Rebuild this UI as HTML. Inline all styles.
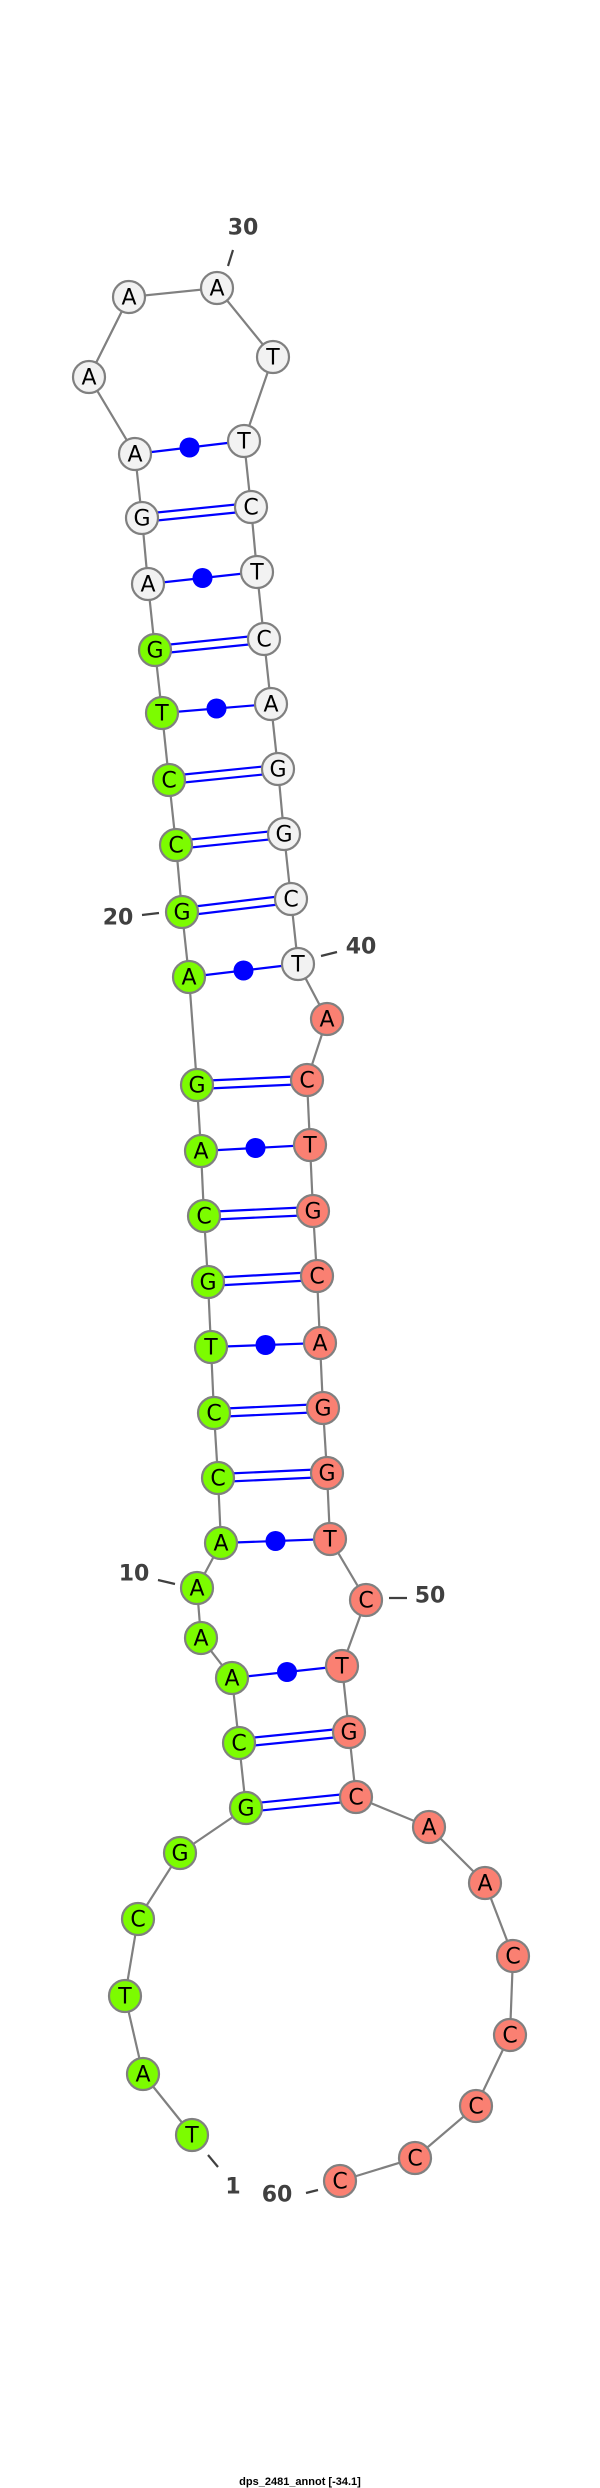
<!DOCTYPE html>
<html><head><meta charset="utf-8"><style>
html,body{margin:0;padding:0;background:#fff;}
svg{display:block;}
.n{stroke:#808080;stroke-width:2.2;}
.g{fill:#7CFC00;}.w{fill:#F2F2F2;}.s{fill:#FA8072;}
text.l{font-family:"DejaVu Sans","Liberation Sans",sans-serif;font-size:22px;text-anchor:middle;dominant-baseline:central;fill:#000;}
text.num{font-family:"DejaVu Sans","Liberation Sans",sans-serif;font-size:22px;font-weight:bold;text-anchor:middle;dominant-baseline:central;fill:#404040;}
.bp{stroke:#0000ff;stroke-width:2.2;fill:none;}
.tk{stroke:#404040;stroke-width:2.2;}
</style></head><body>
<svg width="600" height="2488" viewBox="0 0 600 2488" xmlns="http://www.w3.org/2000/svg">
<polyline fill="none" stroke="#808080" stroke-width="2.2" points="192,2135 143,2074 125,1996 138,1919 180,1853 246,1808 239,1743 232,1678 201,1638 197,1588 221,1543 218,1478 214,1413 211,1347 208,1282 204,1216 201,1151 197,1085 189,977 182,912 176,845 169,780 162,713 155,650 148,584 142,518 135,454 89,377 129,297 217,288 273,357 244,441 251,507 257,572 264,639 271,704 278,769 284,834 291,899 298,964 327,1019 307,1080 310,1145 313,1211 317,1276 320,1343 323,1408 327,1473 330,1539 366,1600 342,1666 349,1732 356,1797 429,1827 485,1883 513,1956 510,2035 476,2106 415,2158 340,2181"/>
<!-- pairs -->
<g class="bp">
<line x1="135" y1="454" x2="244" y2="441"/>
<line x1="142" y1="514" x2="251" y2="503"/><line x1="142" y1="522" x2="251" y2="511"/>
<line x1="148" y1="584" x2="257" y2="572"/>
<line x1="155" y1="646" x2="264" y2="635"/><line x1="155" y1="654" x2="264" y2="643"/>
<line x1="162" y1="713" x2="271" y2="704"/>
<line x1="169" y1="776" x2="278" y2="765"/><line x1="169" y1="784" x2="278" y2="773"/>
<line x1="176" y1="841" x2="284" y2="830"/><line x1="176" y1="849" x2="284" y2="838"/>
<line x1="182" y1="908" x2="291" y2="895"/><line x1="182" y1="916" x2="291" y2="903"/>
<line x1="189" y1="977" x2="298" y2="964"/>
<line x1="197" y1="1081" x2="307" y2="1076"/><line x1="197" y1="1089" x2="307" y2="1084"/>
<line x1="201" y1="1151" x2="310" y2="1145"/>
<line x1="204" y1="1212" x2="313" y2="1207"/><line x1="204" y1="1220" x2="313" y2="1215"/>
<line x1="208" y1="1278" x2="317" y2="1272"/><line x1="208" y1="1286" x2="317" y2="1280"/>
<line x1="211" y1="1347" x2="320" y2="1343"/>
<line x1="214" y1="1409" x2="323" y2="1404"/><line x1="214" y1="1417" x2="323" y2="1412"/>
<line x1="218" y1="1474" x2="327" y2="1469"/><line x1="218" y1="1482" x2="327" y2="1477"/>
<line x1="221" y1="1543" x2="330" y2="1539"/>
<line x1="232" y1="1678" x2="342" y2="1666"/>
<line x1="239" y1="1739" x2="349" y2="1728"/><line x1="239" y1="1747" x2="349" y2="1736"/>
<line x1="246" y1="1804" x2="356" y2="1793"/><line x1="246" y1="1812" x2="356" y2="1801"/>
</g>
<g fill="#0000ff">
<circle cx="189.5" cy="447.5" r="10"/>
<circle cx="202.5" cy="578" r="10"/>
<circle cx="216.5" cy="708.5" r="10"/>
<circle cx="243.5" cy="970.5" r="10"/>
<circle cx="255.5" cy="1148" r="10"/>
<circle cx="265.5" cy="1345" r="10"/>
<circle cx="275.5" cy="1541" r="10"/>
<circle cx="287" cy="1672" r="10"/>
</g>
<!-- ticks & numbers -->
<line class="tk" x1="233" y1="250" x2="228" y2="266"/>
<text class="num" x="243" y="228">30</text>
<line class="tk" x1="142" y1="915" x2="159" y2="913"/>
<text class="num" x="118" y="918">20</text>
<line class="tk" x1="321" y1="956" x2="337" y2="952"/>
<text class="num" x="361" y="947">40</text>
<line class="tk" x1="158" y1="1580" x2="175" y2="1584"/>
<text class="num" x="134" y="1574">10</text>
<line class="tk" x1="389" y1="1598" x2="407" y2="1598"/>
<text class="num" x="430" y="1596">50</text>
<line class="tk" x1="208" y1="2155" x2="218" y2="2167"/>
<text class="num" x="233" y="2187">1</text>
<line class="tk" x1="306" y1="2193" x2="318" y2="2190"/>
<text class="num" x="277" y="2195">60</text>
<!-- nodes -->
<g class="n">
<circle class="g" cx="192" cy="2135" r="16"/><circle class="g" cx="143" cy="2074" r="16"/><circle class="g" cx="125" cy="1996" r="16"/><circle class="g" cx="138" cy="1919" r="16"/><circle class="g" cx="180" cy="1853" r="16"/><circle class="g" cx="246" cy="1808" r="16"/><circle class="g" cx="239" cy="1743" r="16"/><circle class="g" cx="232" cy="1678" r="16"/><circle class="g" cx="201" cy="1638" r="16"/><circle class="g" cx="197" cy="1588" r="16"/><circle class="g" cx="221" cy="1543" r="16"/><circle class="g" cx="218" cy="1478" r="16"/><circle class="g" cx="214" cy="1413" r="16"/><circle class="g" cx="211" cy="1347" r="16"/><circle class="g" cx="208" cy="1282" r="16"/><circle class="g" cx="204" cy="1216" r="16"/><circle class="g" cx="201" cy="1151" r="16"/><circle class="g" cx="197" cy="1085" r="16"/><circle class="g" cx="189" cy="977" r="16"/><circle class="g" cx="182" cy="912" r="16"/><circle class="g" cx="176" cy="845" r="16"/><circle class="g" cx="169" cy="780" r="16"/><circle class="g" cx="162" cy="713" r="16"/><circle class="g" cx="155" cy="650" r="16"/>
<circle class="w" cx="148" cy="584" r="16"/><circle class="w" cx="142" cy="518" r="16"/><circle class="w" cx="135" cy="454" r="16"/><circle class="w" cx="89" cy="377" r="16"/><circle class="w" cx="129" cy="297" r="16"/><circle class="w" cx="217" cy="288" r="16"/><circle class="w" cx="273" cy="357" r="16"/><circle class="w" cx="244" cy="441" r="16"/><circle class="w" cx="251" cy="507" r="16"/><circle class="w" cx="257" cy="572" r="16"/><circle class="w" cx="264" cy="639" r="16"/><circle class="w" cx="271" cy="704" r="16"/><circle class="w" cx="278" cy="769" r="16"/><circle class="w" cx="284" cy="834" r="16"/><circle class="w" cx="291" cy="899" r="16"/><circle class="w" cx="298" cy="964" r="16"/>
<circle class="s" cx="327" cy="1019" r="16"/><circle class="s" cx="307" cy="1080" r="16"/><circle class="s" cx="310" cy="1145" r="16"/><circle class="s" cx="313" cy="1211" r="16"/><circle class="s" cx="317" cy="1276" r="16"/><circle class="s" cx="320" cy="1343" r="16"/><circle class="s" cx="323" cy="1408" r="16"/><circle class="s" cx="327" cy="1473" r="16"/><circle class="s" cx="330" cy="1539" r="16"/><circle class="s" cx="366" cy="1600" r="16"/><circle class="s" cx="342" cy="1666" r="16"/><circle class="s" cx="349" cy="1732" r="16"/><circle class="s" cx="356" cy="1797" r="16"/><circle class="s" cx="429" cy="1827" r="16"/><circle class="s" cx="485" cy="1883" r="16"/><circle class="s" cx="513" cy="1956" r="16"/><circle class="s" cx="510" cy="2035" r="16"/><circle class="s" cx="476" cy="2106" r="16"/><circle class="s" cx="415" cy="2158" r="16"/><circle class="s" cx="340" cy="2181" r="16"/>
</g>
<g>
<text class="l" x="192" y="2136">T</text><text class="l" x="143" y="2075">A</text><text class="l" x="125" y="1997">T</text><text class="l" x="138" y="1920">C</text><text class="l" x="180" y="1854">G</text><text class="l" x="246" y="1809">G</text><text class="l" x="239" y="1744">C</text><text class="l" x="232" y="1679">A</text><text class="l" x="201" y="1639">A</text><text class="l" x="197" y="1589">A</text><text class="l" x="221" y="1544">A</text><text class="l" x="218" y="1479">C</text><text class="l" x="214" y="1414">C</text><text class="l" x="211" y="1348">T</text><text class="l" x="208" y="1283">G</text><text class="l" x="204" y="1217">C</text><text class="l" x="201" y="1152">A</text><text class="l" x="197" y="1086">G</text><text class="l" x="189" y="978">A</text><text class="l" x="182" y="913">G</text><text class="l" x="176" y="846">C</text><text class="l" x="169" y="781">C</text><text class="l" x="162" y="714">T</text><text class="l" x="155" y="651">G</text>
<text class="l" x="148" y="585">A</text><text class="l" x="142" y="519">G</text><text class="l" x="135" y="455">A</text><text class="l" x="89" y="378">A</text><text class="l" x="129" y="298">A</text><text class="l" x="217" y="289">A</text><text class="l" x="273" y="358">T</text><text class="l" x="244" y="442">T</text><text class="l" x="251" y="508">C</text><text class="l" x="257" y="573">T</text><text class="l" x="264" y="640">C</text><text class="l" x="271" y="705">A</text><text class="l" x="278" y="770">G</text><text class="l" x="284" y="835">G</text><text class="l" x="291" y="900">C</text><text class="l" x="298" y="965">T</text>
<text class="l" x="327" y="1020">A</text><text class="l" x="307" y="1081">C</text><text class="l" x="310" y="1146">T</text><text class="l" x="313" y="1212">G</text><text class="l" x="317" y="1277">C</text><text class="l" x="320" y="1344">A</text><text class="l" x="323" y="1409">G</text><text class="l" x="327" y="1474">G</text><text class="l" x="330" y="1540">T</text><text class="l" x="366" y="1601">C</text><text class="l" x="342" y="1667">T</text><text class="l" x="349" y="1733">G</text><text class="l" x="356" y="1798">C</text><text class="l" x="429" y="1828">A</text><text class="l" x="485" y="1884">A</text><text class="l" x="513" y="1957">C</text><text class="l" x="510" y="2036">C</text><text class="l" x="476" y="2107">C</text><text class="l" x="415" y="2159">C</text><text class="l" x="340" y="2182">C</text>
</g>
<text x="300" y="2485" text-anchor="middle" font-family="'Liberation Sans',sans-serif" font-size="11" font-weight="bold" fill="#000">dps_2481_annot [-34.1]</text>
</svg>
</body></html>
